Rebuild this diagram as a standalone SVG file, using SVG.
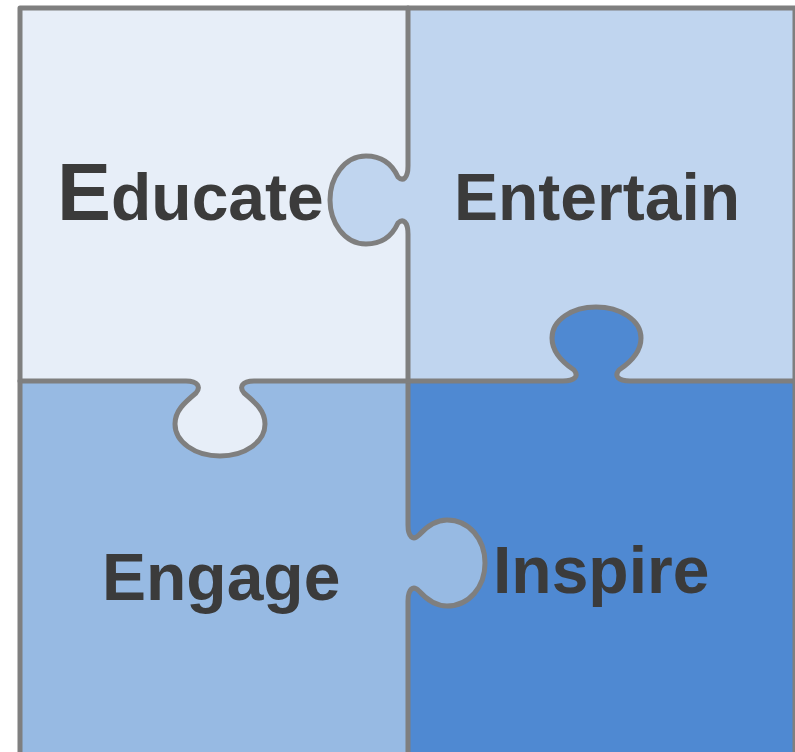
<svg xmlns="http://www.w3.org/2000/svg" width="795" height="752" viewBox="0 0 795 752">
<style>
.line{fill:none;stroke:#7F7F7F;stroke-width:5;stroke-linejoin:round;stroke-linecap:round}
.lbl{font-family:"Liberation Sans",Arial,sans-serif;font-weight:bold;fill:#3B3B3B;font-size:66px}
.c1{fill:#E7EEF8}.c2{fill:#C0D5EF}.c3{fill:#97BAE3}.c4{fill:#4F89D2}
</style>
<rect x="0" y="0" width="795" height="752" fill="#FFFFFF"/>
<g id="educate">
<rect class="c1" x="20" y="8" width="388" height="373"/>
<text class="lbl" x="57" y="220"><tspan font-size="81">E</tspan>ducate</text>
</g>
<g id="entertain">
<rect class="c2" x="408" y="8" width="390" height="373"/>
<path class="c2" d="M408,166 C408,178 403,182 398,177 C393,166 384,156 366,156 C344,156 330,178 330,200 C330,222 344,244 366,244 C384,244 393,234 398,223 C403,218 408,222 408,234 Z"/>
<text class="lbl" x="454" y="220">Entertain</text>
</g>
<g id="engage">
<rect class="c3" x="20" y="381" width="388" height="380"/>
<path class="c1" d="M186,381 C198,381 201,387 196,393 C184,403 175,411 175,424 C175,442 195,456 220,456 C245,456 265,442 265,424 C265,411 256,403 244,393 C239,387 242,381 254,381 Z"/>
<text class="lbl" x="102" y="600">Engage</text>
</g>
<g id="inspire">
<rect class="c4" x="408" y="381" width="390" height="380"/>
<path class="c4" d="M563,381 C575,381 579,376 574,370 C562,362 552,352 552,338 C552,320 572,307 596,307 C620,307 641,320 641,338 C641,352 631,362 619,370 C614,376 618,381 630,381 Z"/>
<path class="c3" d="M408,525 C408,537 413,541 419,535 C428,525 436,520 447,520 C469,520 485,539 485,563 C485,587 469,606 447,606 C436,606 428,601 419,591 C413,585 408,589 408,601 Z"/>
<text class="lbl" x="493" y="593">Inspire</text>
</g>
<g id="connectors">
<path class="line" d="M408,8 V166 C408,178 403,182 398,177 C393,166 384,156 366,156 C344,156 330,178 330,200 C330,222 344,244 366,244 C384,244 393,234 398,223 C403,218 408,222 408,234 V381"/>
<path class="line" d="M408,381 V525 C408,537 413,541 419,535 C428,525 436,520 447,520 C469,520 485,539 485,563 C485,587 469,606 447,606 C436,606 428,601 419,591 C413,585 408,589 408,601 V770"/>
<path class="line" d="M20,381 H186 C198,381 201,387 196,393 C184,403 175,411 175,424 C175,442 195,456 220,456 C245,456 265,442 265,424 C265,411 256,403 244,393 C239,387 242,381 254,381 H408"/>
<path class="line" d="M408,381 H563 C575,381 579,376 574,370 C562,362 552,352 552,338 C552,320 572,307 596,307 C620,307 641,320 641,338 C641,352 631,362 619,370 C614,376 618,381 630,381 H800"/>
<rect class="line" x="20" y="8" width="775" height="770" stroke-width="4"/>
</g>
</svg>
